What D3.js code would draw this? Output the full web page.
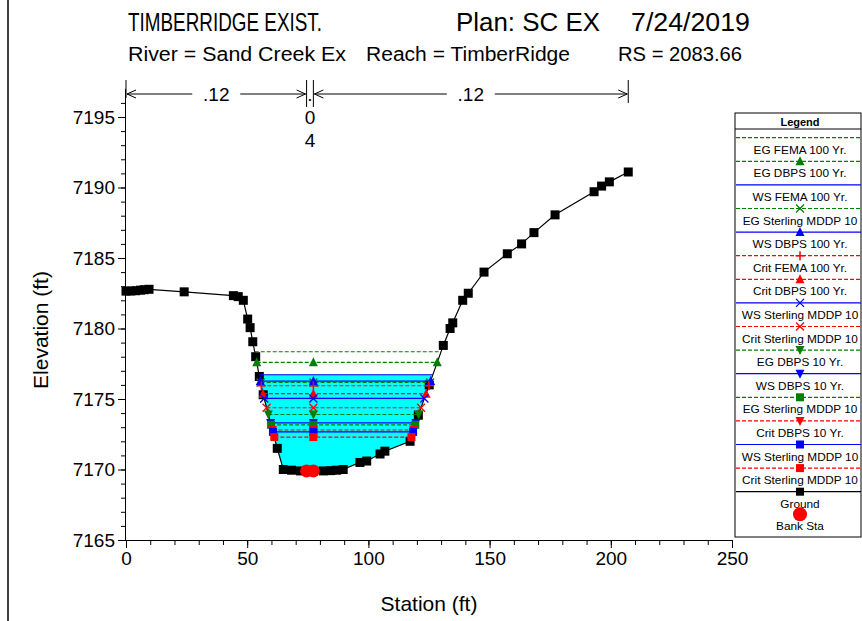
<!DOCTYPE html>
<html>
<head>
<meta charset="utf-8">
<script src="https://d3js.org/d3.v7.min.js"></script>
<style>
  body { margin: 0; background: #fff; }
  svg { font-family: "Liberation Sans", Arial, sans-serif; }
</style>
</head>
<body>
<div id="chart"></div>
<script>
  // ground profile
  const groundSta  = [0, 2, 4, 6, 7.5, 9.5, 24, 44.3, 46.3, 48.4, 50.2, 51.2, 52.3, 53.5, 55.0, 56.6,
                      62.4, 64.9, 68.3, 72, 76, 81.4, 84.5, 86.9, 89.6, 96.5, 99.3, 104.8, 106.8, 117.2,
                      120.6, 125.1, 130.9, 133.7, 134.8, 138.9, 141.2, 147.7, 157.3, 163.2, 168.3, 177.0,
                      193.1, 196.2, 199.4, 207.2];
  const groundElev = [7182.65, 7182.66, 7182.68, 7182.72, 7182.75, 7182.78, 7182.6, 7182.33, 7182.26, 7182.0,
                      7180.67, 7180.06, 7179.06, 7178.0, 7176.6, 7175.3, 7171.5, 7170.0, 7169.95, 7169.9,
                      7169.9, 7169.9, 7169.92, 7169.95, 7170.0, 7170.5, 7170.6, 7171.1, 7171.3, 7172.0,
                      7173.85, 7176.0, 7178.8, 7180.0, 7180.4, 7182.0, 7182.5, 7184.0, 7185.3, 7186.0,
                      7186.8, 7188.06, 7189.7, 7190.1, 7190.4, 7191.1];
  const bankSta = [74.5, 77.3];

  // water surface / energy grade / critical profiles
  const profileNames = ["EG FEMA 100 Yr.", "EG DBPS 100 Yr.", "WS FEMA 100 Yr.", "EG Sterling MDDP 10",
                        "WS DBPS 100 Yr.", "Crit FEMA 100 Yr.", "Crit DBPS 100 Yr.", "WS Sterling MDDP 10",
                        "Crit Sterling MDDP 10", "EG DBPS 10 Yr.", "WS DBPS 10 Yr.", "EG Sterling MDDP 10",
                        "Crit DBPS 10 Yr.", "WS Sterling MDDP 10", "Crit Sterling MDDP 10"];
  const profileElev  = [7178.35, 7177.6, 7176.72, 7176.17, 7176.27, 7175.94, 7175.38, 7175.04,
                        7174.38, 7173.9, 7173.3, 7173.17, 7172.8, 7172.67, 7172.3];
  const profileMarker = ["none", "triUp", "none", "x", "triUp", "plus", "triUp", "x",
                         "x", "triDown", "triDown", "square", "triDown", "square", "square"];

  // Manning's n across the section
  const nBreaks = [0, 74.5, 77.3, 207.2];
  const nValues = [".12", ".04", ".12"];

  const xTicks = [0, 50, 100, 150, 200, 250];
  const yTicks = [7165, 7170, 7175, 7180, 7185, 7190, 7195];

  const W = 862, H = 621;
  const svg = d3.select("#chart").append("svg").attr("width", W).attr("height", H);

  const x = d3.scaleLinear().domain([0, 250]).range([126, 732]);
  const y = d3.scaleLinear().domain([7165, 7197]).range([540, 88.8]);

  const styleOf = name => {
    if (name.startsWith("EG")) return { c: "#008000", dash: "4,2" };
    if (name.startsWith("WS")) return { c: "#0000ff", dash: null };
    return { c: "#ff0000", dash: "4,2" };
  };

  // left frame line
  svg.append("line").attr("x1", 8).attr("x2", 8).attr("y1", 0).attr("y2", H)
    .attr("stroke", "#000").attr("stroke-width", 1.5);

  // titles
  const titleBits = [
    ["TIMBERRIDGE EXIST.", 128, 194, 31, 26],
    ["Plan: SC EX", 456, 144, 31, 26],
    ["7/24/2019", 631, 119, 31, 26],
    ["River = Sand Creek Ex", 128, 218, 61, 20],
    ["Reach = TimberRidge", 366, 204, 61, 20],
    ["RS = 2083.66", 618, 124, 61, 20]
  ];
  titleBits.forEach(t => {
    svg.append("text").attr("x", t[1]).attr("y", t[3])
      .attr("textLength", t[2]).attr("lengthAdjust", "spacingAndGlyphs")
      .style("font-size", t[4] + "px").text(t[0]);
  });

  // ground crossings
  function crossings(elev) {
    const n = groundElev.length;
    const iMin = d3.minIndex(groundElev);
    let i = iMin;
    while (i > 0 && groundElev[i - 1] < elev) i--;
    let j = iMin;
    while (j < n - 1 && groundElev[j + 1] < elev) j++;
    const lerp = (a, b) => groundSta[a] + (elev - groundElev[a]) / (groundElev[b] - groundElev[a]) * (groundSta[b] - groundSta[a]);
    return { left: lerp(i - 1, i), right: lerp(j + 1, j), i: i, j: j };
  }

  // water fill for the highest water surface
  const wsTop = profileElev[profileNames.indexOf("WS FEMA 100 Yr.")];
  const cr = crossings(wsTop);
  const fillPts = [[cr.left, wsTop]];
  for (let k = cr.i; k <= cr.j; k++) fillPts.push([groundSta[k], groundElev[k]]);
  fillPts.push([cr.right, wsTop]);
  svg.append("path")
    .attr("d", d3.line().x(d => x(d[0])).y(d => y(d[1]))(fillPts) + "Z")
    .attr("fill", "#00ffff");

  // ground line
  const groundPts = groundSta.map((s, i) => [s, groundElev[i]]);
  svg.append("path")
    .attr("d", d3.line().x(d => x(d[0])).y(d => y(d[1]))(groundPts))
    .attr("fill", "none").attr("stroke", "#000").attr("stroke-width", 1.2);
  svg.selectAll(".gpt").data(groundPts).enter().append("rect")
    .attr("x", d => x(d[0]) - 4.5).attr("y", d => y(d[1]) - 4.5)
    .attr("width", 9).attr("height", 9).attr("fill", "#000");

  function marker(g, type, cx, cy, col) {
    if (type === "triUp") {
      g.append("path").attr("d", `M${cx - 4.5},${cy + 4}L${cx + 4.5},${cy + 4}L${cx},${cy - 5}Z`).attr("fill", col);
    } else if (type === "triDown") {
      g.append("path").attr("d", `M${cx - 4.5},${cy - 4}L${cx + 4.5},${cy - 4}L${cx},${cy + 5}Z`).attr("fill", col);
    } else if (type === "square") {
      g.append("rect").attr("x", cx - 4).attr("y", cy - 4).attr("width", 8).attr("height", 8).attr("fill", col);
    } else if (type === "x") {
      g.append("path").attr("d", `M${cx - 4},${cy - 4}L${cx + 4},${cy + 4}M${cx - 4},${cy + 4}L${cx + 4},${cy - 4}`)
        .attr("stroke", col).attr("stroke-width", 1.3);
    } else if (type === "plus") {
      g.append("path").attr("d", `M${cx - 4.5},${cy}L${cx + 4.5},${cy}M${cx},${cy - 4.5}L${cx},${cy + 4.5}`)
        .attr("stroke", col).attr("stroke-width", 1.5);
    }
  }

  // profiles
  const prof = svg.append("g");
  profileNames.forEach((name, k) => {
    const e = profileElev[k];
    const st = styleOf(name);
    const c = crossings(e);
    prof.append("line")
      .attr("x1", x(c.left)).attr("x2", x(c.right)).attr("y1", y(e)).attr("y2", y(e))
      .attr("stroke", st.c).attr("stroke-width", 1.2)
      .attr("stroke-dasharray", st.dash);
  });
  profileNames.forEach((name, k) => {
    const e = profileElev[k];
    const st = styleOf(name);
    const c = crossings(e);
    [c.left, bankSta[1], c.right].forEach(s => marker(prof, profileMarker[k], x(s), y(e), st.c));
  });

  // bank stations
  svg.selectAll(".bank").data(bankSta).enter().append("circle")
    .attr("cx", d => x(d))
    .attr("cy", d => {
      const i = d3.bisectLeft(groundSta, d);
      const t = (d - groundSta[i - 1]) / (groundSta[i] - groundSta[i - 1]);
      return y(groundElev[i - 1] + t * (groundElev[i] - groundElev[i - 1]));
    })
    .attr("r", 6.5).attr("fill", "#ff0000");

  // axes
  const axisFont = 19;
  const yAxis = svg.append("g").attr("transform", "translate(" + x(0) + ",0)")
    .call(d3.axisLeft(y).tickValues(yTicks).tickSize(8).tickPadding(3).tickFormat(d3.format("d")));
  svg.append("g").attr("transform", "translate(" + x(0) + ",0)")
    .call(d3.axisLeft(y).tickValues(d3.range(7165, 7197)).tickSize(5).tickFormat(""))
    .select(".domain").remove();
  const xAxis = svg.append("g").attr("transform", "translate(0," + y(7165) + ")")
    .call(d3.axisBottom(x).tickValues(xTicks).tickSize(8).tickPadding(4));
  svg.append("g").attr("transform", "translate(0," + y(7165) + ")")
    .call(d3.axisBottom(x).tickValues(d3.range(0, 251, 10)).tickSize(5).tickFormat(""))
    .select(".domain").remove();
  svg.selectAll(".tick text").style("font-size", axisFont + "px").attr("fill", "#000")
    .style("font-family", '"Liberation Sans", Arial, sans-serif');
  svg.selectAll(".domain, .tick line").attr("stroke", "#000");
  yAxis.select(".domain").attr("d", `M-0.5,${y(7165)}V${y(7197)}`);
  xAxis.select(".domain").attr("d", `M${x(0)},0.5H${x(250)}`);

  svg.append("text").attr("x", x(125)).attr("y", 611).attr("text-anchor", "middle")
    .style("font-size", "21px").text("Station (ft)");
  svg.append("text").attr("transform", "translate(48,330) rotate(-90)").attr("text-anchor", "middle")
    .style("font-size", "21px").text("Elevation (ft)");

  // Manning's n annotation
  const ann = svg.append("g").attr("stroke", "#000").attr("fill", "none").attr("stroke-width", 1);
  const ay = 94;
  nBreaks.forEach((b, i) => {
    ann.append("line").attr("x1", x(b)).attr("x2", x(b)).attr("y1", 80)
      .attr("y2", i === 0 ? 98 : (i === nBreaks.length - 1 ? 103 : 107));
  });
  nValues.forEach((v, i) => {
    const a = x(nBreaks[i]) + 1, b = x(nBreaks[i + 1]) - 1;
    const mid = (a + b) / 2;
    if (b - a > 40) {
      ann.append("line").attr("x1", a).attr("x2", mid - 24).attr("y1", ay).attr("y2", ay);
      ann.append("line").attr("x1", mid + 24).attr("x2", b).attr("y1", ay).attr("y2", ay);
      ann.append("path").attr("d", `M${a + 9},${ay - 4}L${a},${ay}L${a + 9},${ay + 4}`);
      ann.append("path").attr("d", `M${b - 9},${ay - 4}L${b},${ay}L${b - 9},${ay + 4}`);
      svg.append("text").attr("x", mid).attr("y", ay + 7).attr("text-anchor", "middle")
        .style("font-size", "19px").text(v);
    } else {
      const chars = v.split("");
      chars.forEach((ch, j) => {
        svg.append("text").attr("x", mid).attr("y", ay + 7 + j * 23).attr("text-anchor", "middle")
          .style("font-size", "19px").text(ch);
      });
    }
  });

  // legend
  const lg = svg.append("g");
  const lx0 = 735, lx1 = 861, lcx = 800;
  lg.append("rect").attr("x", lx0).attr("y", 113).attr("width", lx1 - lx0).attr("height", 424)
    .attr("fill", "#fff").attr("stroke", "#000").attr("stroke-width", 1);
  lg.append("text").attr("x", lcx).attr("y", 126).attr("text-anchor", "middle")
    .style("font-size", "11px").style("font-weight", "bold").text("Legend");
  lg.append("line").attr("x1", lx0).attr("x2", lx1).attr("y1", 129).attr("y2", 129).attr("stroke", "#000");
  const legendNames = profileNames.concat(["Ground"]);
  legendNames.forEach((name, i) => {
    const ly = 137.7 + 23.6 * i;
    const st = name === "Ground" ? { c: "#000", dash: null } : styleOf(name);
    lg.append("line").attr("x1", lx0 + 1).attr("x2", lx1).attr("y1", ly).attr("y2", ly)
      .attr("stroke", st.c).attr("stroke-width", 1.2).attr("stroke-dasharray", st.dash);
    marker(lg, name === "Ground" ? "square" : profileMarker[i], lcx, ly, st.c);
    lg.append("text").attr("x", lcx).attr("y", ly + 16).attr("text-anchor", "middle")
      .style("font-size", "11.8px").text(name);
  });
  const by = 137.7 + 23.6 * legendNames.length;
  lg.append("circle").attr("cx", lcx).attr("cy", by - 1).attr("r", 7).attr("fill", "#ff0000");
  lg.append("text").attr("x", lcx).attr("y", by + 15).attr("text-anchor", "middle")
    .style("font-size", "11.8px").text("Bank Sta");
</script>
</body>
</html>
